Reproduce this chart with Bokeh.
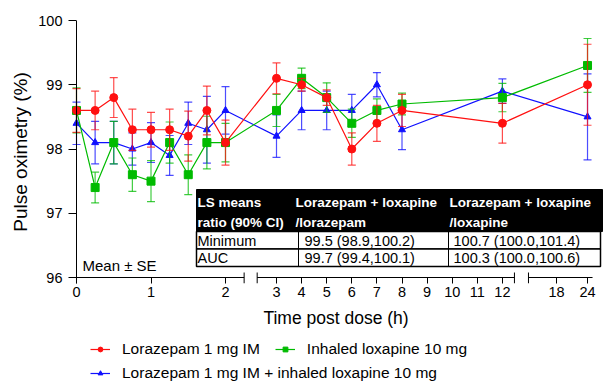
import numpy as np
from bokeh.plotting import figure
from bokeh.layouts import column
from bokeh.models import Range1d, FixedTicker, Span, Legend, LegendItem, ColumnDataSource
from bokeh.core.properties import value
from bokeh.embed import file_html
from bokeh.resources import INLINE

# ---------------- data ----------------
hours = [0, 0.25, 0.5, 0.75, 1, 1.25, 1.5, 1.75, 2, 3, 4, 5, 6, 7, 8, 12, 24]

lorazepam_mean = [98.6, 98.6, 98.8, 98.3, 98.3, 98.3, 98.2, 98.6, 98.1,
                  99.1, 99.0, 98.8, 98.0, 98.4, 98.6, 98.4, 99.0]
lorazepam_se = [0.34, 0.30, 0.31, 0.32, 0.27, 0.32, 0.39, 0.38, 0.35,
                0.24, 0.10, 0.12, 0.25, 0.28, 0.25, 0.31, 0.63]

loxapine_mean = [98.6, 97.4, 98.1, 97.6, 97.5, 98.1, 97.6, 98.1, 98.1,
                 98.6, 99.1, 98.8, 98.4, 98.6, 98.7, 98.8, 99.3]
loxapine_se = [0.35, 0.24, 0.33, 0.26, 0.32, 0.32, 0.31, 0.41, 0.30,
               0.25, 0.16, 0.23, 0.22, 0.18, 0.17, 0.22, 0.42]

combo_mean = [98.4, 98.1, 98.1, 98.0, 98.1, 97.9, 98.4, 98.3, 98.6,
              98.2, 98.6, 98.6, 98.6, 99.0, 98.3, 98.9, 98.5]
combo_se = [0.33, 0.33, 0.33, 0.25, 0.31, 0.31, 0.33, 0.52, 0.37,
            0.33, 0.30, 0.30, 0.25, 0.19, 0.31, 0.19, 0.67]

series_labels = ["Lorazepam 1 mg IM", "Inhaled loxapine 10 mg",
                 "Lorazepam 1 mg IM + inhaled loxapine 10 mg"]

x_tick_hours = [0, 1, 2, 3, 4, 5, 6, 7, 8, 9, 10, 11, 12, 18, 24]
y_ticks = [96, 97, 98, 99, 100]

table_header_col1 = ["LS means", "ratio (90% CI)"]
table_header_col2 = ["Lorazepam + loxapine", "/lorazepam"]
table_header_col3 = ["Lorazepam + loxapine", "/loxapine"]
table_rows = ["Minimum", "AUC"]
table_col2 = ["99.5 (98.9,100.2)", "99.7 (99.4,100.1)"]
table_col3 = ["100.7 (100.0,101.4)", "100.3 (100.0,100.6)"]

# ---------------- broken x axis ----------------
# (hour_from, hour_to, anchor_hour, anchor_u, u_per_hour)
SEGMENTS = [
    (0.0, 2.25, 0.0, 0.0, 74.5),
    (2.23, 12.48, 3.0, 200.0, 25.1),
    (12.58, 24.97, 18.0, 480.0, 5.17),
]


def seg_u(h, seg):
    return seg[3] + (h - seg[2]) * seg[4]


def hour_to_u(h):
    if h <= 2.25:
        seg = SEGMENTS[0]
    elif h <= 12.5:
        seg = SEGMENTS[1]
    else:
        seg = SEGMENTS[2]
    return seg_u(h, seg)


PX_PER_Y = 64.25
Y_TOP_PX = 20.0
X0_PX = 76.0


def px2u(px):
    return px - X0_PX


def py2y(py):
    return 100 - (py - Y_TOP_PX) / PX_PER_Y


Y_BOTTOM = py2y(283)
FONT = "Liberation Sans"

p = figure(width=603, height=335, x_range=Range1d(-8, 527),
           y_range=Range1d(Y_BOTTOM, 100), output_backend="svg",
           toolbar_location=None, min_border_left=68, min_border_right=0,
           min_border_top=20, min_border_bottom=52)
p.grid.visible = False
p.outline_line_color = None
p.background_fill_color = "white"

# x axis
p.xaxis.ticker = FixedTicker(ticks=[hour_to_u(h) for h in x_tick_hours])
p.xaxis.major_label_overrides = {hour_to_u(h): str(h) for h in x_tick_hours}
p.xaxis.axis_line_color = None
p.xaxis.major_tick_in = 6
p.xaxis.major_tick_out = 0
p.xaxis.major_tick_line_color = "black"
p.xaxis.major_label_standoff = 3
p.xaxis.major_label_text_font = FONT
p.xaxis.major_label_text_font_size = "14.5px"
p.xaxis.major_label_text_color = "black"
p.xaxis.axis_label = "Time post dose (h)"
p.xaxis.axis_label_text_font = FONT
p.xaxis.axis_label_text_font_size = "17.5px"
p.xaxis.axis_label_text_font_style = "normal"
p.xaxis.axis_label_text_color = "black"
p.xaxis.axis_label_standoff = 8

# y axis
p.yaxis.ticker = FixedTicker(ticks=y_ticks)
p.yaxis.axis_line_color = None
p.yaxis.major_tick_in = 8
p.yaxis.major_tick_out = 0
p.yaxis.major_tick_line_color = "black"
p.yaxis.major_label_standoff = 6
p.yaxis.major_label_text_font = FONT
p.yaxis.major_label_text_font_size = "14.5px"
p.yaxis.major_label_text_color = "black"
p.yaxis.axis_label = "Pulse oximetry (%)"
p.yaxis.axis_label_text_font = FONT
p.yaxis.axis_label_text_font_size = "19px"
p.yaxis.axis_label_text_font_style = "normal"
p.yaxis.axis_label_text_color = "black"
p.yaxis.axis_label_standoff = 4

p.add_layout(Span(location=0, dimension="height", line_color="black", line_width=1))

# broken x-axis line segments and caps
p.segment(x0=[seg_u(s[0], s) for s in SEGMENTS], y0=96,
          x1=[seg_u(s[1], s) for s in SEGMENTS], y1=96,
          line_color="black", line_width=1)
cap_u = [seg_u(SEGMENTS[0][1], SEGMENTS[0]), seg_u(SEGMENTS[1][0], SEGMENTS[1]),
         seg_u(SEGMENTS[1][1], SEGMENTS[1]), seg_u(SEGMENTS[2][0], SEGMENTS[2])]
p.segment(x0=cap_u, y0=py2y(272), x1=cap_u, y1=py2y(283),
          line_color="black", line_width=1)

# ---------------- series ----------------
u_vals = [hour_to_u(h) for h in hours]
series = [
    (combo_mean, combo_se, "#1010ff", "triangle", 7),
    (loxapine_mean, loxapine_se, "#00bb00", "square", 8),
    (lorazepam_mean, lorazepam_se, "#ff1010", "circle", 8),
]
for mean, se, color, marker, size in series:
    mean = np.array(mean)
    se = np.array(se)
    src = ColumnDataSource(dict(x=u_vals, y=mean, lo=mean - se, hi=mean + se))
    p.segment(x0="x", y0="lo", x1="x", y1="hi", source=src,
              line_color=color, line_width=1.2, line_alpha=0.75)
    p.scatter(x="x", y="lo", source=src, marker="dash", size=8,
              line_color=color, line_width=1.2, line_alpha=0.75)
    p.scatter(x="x", y="hi", source=src, marker="dash", size=8,
              line_color=color, line_width=1.2, line_alpha=0.75)
    p.line(x="x", y="y", source=src, line_color=color, line_width=1.2)
    p.scatter(x="x", y="y", source=src, marker=marker, size=size,
              fill_color=color, line_color=color)

# ---------------- table ----------------
T_LEFT, T_RIGHT = px2u(196), px2u(600)
p.quad(left=T_LEFT, right=px2u(602), top=py2y(189), bottom=py2y(231),
       fill_color="black", line_color="black")
p.quad(left=[T_LEFT, T_LEFT], right=[T_RIGHT, T_RIGHT],
       top=[py2y(231), py2y(248.5)], bottom=[py2y(248.5), py2y(266)],
       fill_color="white", line_color="black", line_width=1.5)
p.segment(x0=[px2u(298), px2u(448)], y0=py2y(231),
          x1=[px2u(298), px2u(448)], y1=py2y(266),
          line_color="black", line_width=1)

hx = [px2u(197)] * 2 + [px2u(295)] * 2 + [px2u(449)] * 2
hy = [py2y(202), py2y(222)] * 3
p.text(x=hx, y=hy, text=table_header_col1 + table_header_col2 + table_header_col3,
       text_font=value(FONT), text_font_size="13.5px", text_font_style="bold",
       text_color="white", text_baseline="middle", text_align="left")

dx = [px2u(197)] * 2 + [px2u(304)] * 2 + [px2u(453)] * 2
dy = [py2y(240), py2y(257.5)] * 3
p.text(x=dx, y=dy, text=table_rows + table_col2 + table_col3,
       text_font=value(FONT), text_font_size="14.5px",
       text_color="black", text_baseline="middle", text_align="left")

p.text(x=[px2u(82)], y=[py2y(265)], text=["Mean \u00b1 SE"],
       text_font=value(FONT), text_font_size="15px",
       text_color="black", text_baseline="middle", text_align="left")

# ---------------- legend strip (separate figure below) ----------------
LEG_H = 46
p2 = figure(width=603, height=LEG_H, x_range=Range1d(0, 603), y_range=Range1d(0, LEG_H),
            output_backend="svg", toolbar_location=None, x_axis_type=None,
            y_axis_type=None, min_border=0)
p2.grid.visible = False
p2.outline_line_color = None

leg_renderers = []
for mean, se, color, marker, size in series:
    proxy = ColumnDataSource(dict(x=[np.nan], y=[np.nan]))  # legend proxies only
    ln = p2.line(x="x", y="y", source=proxy, line_color=color, line_width=1.2)
    mk = p2.scatter(x="x", y="y", source=proxy, marker=marker, size=5,
                    fill_color=color, line_color=color)
    leg_renderers.append([ln, mk])

items1 = [LegendItem(label=series_labels[0], renderers=leg_renderers[2]),
          LegendItem(label=series_labels[1], renderers=leg_renderers[1])]
items2 = [LegendItem(label=series_labels[2], renderers=leg_renderers[0])]
# frame of the strip is aligned with the main frame (starts 68 px in)
for items, loc in ((items1, (22, LEG_H - 14 - 8.5)), (items2, (22, LEG_H - 38 - 8.5))):
    lg = Legend(items=items, orientation="horizontal", location=loc,
                label_text_font=FONT, label_text_font_size="15.5px",
                label_text_color="black", glyph_width=20, glyph_height=12,
                label_height=17, label_standoff=12, spacing=15, padding=0,
                margin=0, border_line_color=None, background_fill_alpha=0)
    p2.add_layout(lg)

layout = column(p, p2, spacing=0)
open("out.html", "w").write(file_html(layout, INLINE))
